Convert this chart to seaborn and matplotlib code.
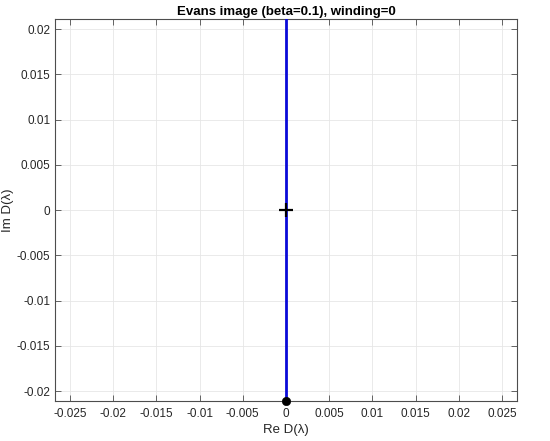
import matplotlib
matplotlib.use("Agg")
import matplotlib.pyplot as plt
import seaborn as sns
import pandas as pd
import numpy as np

# Evans function image data (Re D, Im D)
re_vals = [0.0, 0.0, 0.0, 0.0]
im_vals = [-0.0211, -0.01, 0.0, 0.03]
# start point and origin marker
start_re = [0.0]
start_im = [-0.0211]
origin_re = [0.0]
origin_im = [0.0]

xticks = [-0.025, -0.02, -0.015, -0.01, -0.005, 0, 0.005, 0.01, 0.015, 0.02, 0.025]
yticks = [-0.02, -0.015, -0.01, -0.005, 0, 0.005, 0.01, 0.015, 0.02]
xlim = (-0.02674, 0.02674)
ylim = (-0.0211, 0.0211)

sns.set_theme(style="white")
plt.rcParams['font.family'] = ['Liberation Sans', 'DejaVu Sans']

fig = plt.figure(figsize=(5.5, 4.41), dpi=100)
ax = fig.add_axes([0.1, 0.0907, 0.84, 0.866])

df = pd.DataFrame({"re": re_vals, "im": im_vals})
sns.lineplot(data=df, x="re", y="im", sort=False, estimator=None, ax=ax,
             color="#0a0ad8", linewidth=2.0, zorder=3)
sns.scatterplot(x=origin_re, y=origin_im, marker="+", s=90, color="black",
                linewidth=1.6, ax=ax, zorder=4)
sns.scatterplot(x=start_re, y=start_im, marker="o", s=36, color="black",
                edgecolor="black", ax=ax, zorder=5, clip_on=False)

ax.set_xlim(*xlim)
ax.set_ylim(*ylim)
ax.set_xticks(xticks)
ax.set_yticks(yticks)
ax.set_xticklabels([("%g" % t) for t in xticks])
ax.set_yticklabels([("%g" % t) for t in yticks])
ax.grid(True, color="#e6e6e6", linewidth=0.6)
ax.set_axisbelow(True)
for sp in ax.spines.values():
    sp.set_color("#4d4d4d")
    sp.set_linewidth(0.8)
ax.tick_params(direction="in", length=4, width=0.6, colors="#4d4d4d",
               labelcolor="#262626", labelsize=8.5, top=True, right=True,
               bottom=True, left=True, pad=3.5)
ax.tick_params(axis="x", pad=5)
ax.set_xlabel("Re D(λ)", fontsize=9.5, color="#262626", labelpad=3)
ax.set_ylabel("Im D(λ)", fontsize=9.5, color="#262626")
ax.yaxis.set_label_coords(-0.088, 0.5)
ax.set_title("Evans image (beta=0.1), winding=0", fontsize=9.5,
             fontweight="bold", color="black", pad=3)

fig.savefig("out.png", dpi=100)
